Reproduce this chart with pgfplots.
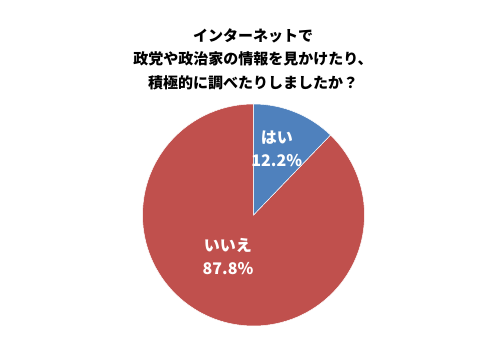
\documentclass[border=0pt]{standalone}
\usepackage{pgfplots}
\pgfplotsset{compat=1.18}
\usepackage{pgfplotstable}
\usepackage{fontspec}
\setmainfont{Noto Sans CJK JP}
\definecolor{pieblue}{HTML}{4F81BD}
\definecolor{piered}{HTML}{C0504D}
\pgfplotstableread{
label value
yes 12.2
no 87.8
}\piedata
\begin{document}
\begin{tikzpicture}[x=1pt,y=1pt]
\path[use as bounding box] (0,0) rectangle (500,358);
\node[font=\bfseries\fontsize{15}{23.5}\selectfont, align=center] at (253,299) {インターネットで\\政党や政治家の情報を見かけたり、\\積極的に調べたりしましたか？};
\pgfplotstablegetelem{0}{value}\of\piedata
\pgfmathsetmacro\angA{90-3.6*\pgfplotsretval}
\begin{axis}[at={(142.5pt,32pt)}, anchor=south west, scale only axis, width=222pt, height=222pt,
  xmin=-1, xmax=1, ymin=-1, ymax=1, hide axis, clip=false]
\fill[piered, draw=white, line width=0.5pt] (axis cs:0,0) -- (axis cs:{cos(\angA)},{sin(\angA)}) arc[start angle=\angA, end angle=-270, radius=1] -- cycle;
\fill[pieblue, draw=white, line width=0.5pt] (axis cs:0,0) -- (axis cs:0,1) arc[start angle=90, end angle=\angA, radius=1] -- cycle;
\node[text=white, font=\bfseries\fontsize{16}{23}\selectfont, align=center] at (axis cs:0.21,0.60) {はい\\12.2\%};
\node[text=white, font=\bfseries\fontsize{16}{23}\selectfont, align=center] at (axis cs:-0.23,-0.374) {いいえ\\87.8\%};
\end{axis}
\end{tikzpicture}
\end{document}
